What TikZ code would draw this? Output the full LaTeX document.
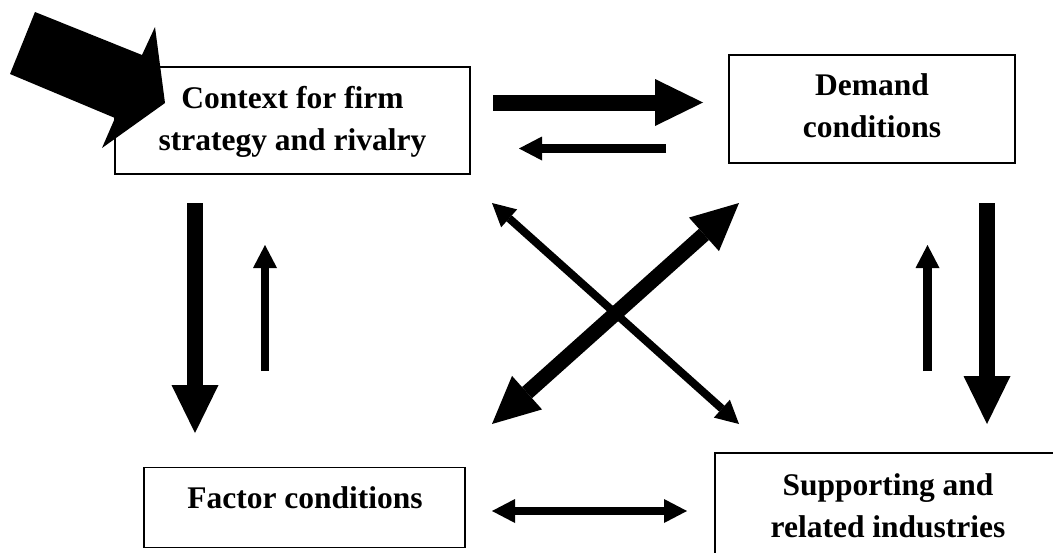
\documentclass[tikz,border=0pt]{standalone}
\usepackage{fontspec}
\setmainfont{Liberation Serif}
\usetikzlibrary{arrows.meta}
\begin{document}
\begin{tikzpicture}[x=1pt,y=-1pt,
  box/.style={draw, line width=1.6pt, rectangle, inner sep=0pt},
  lbl/.style={anchor=base, inner sep=0pt, font=\fontsize{31.5}{42}\selectfont\bfseries},
  heavy/.style={line width=16pt, -{Triangle[length=48pt,width=47pt,line width=0pt]}},
  light/.style={line width=8.5pt, -{Triangle[length=23pt,width=24pt,line width=0pt]}},
  heavyboth/.style={line width=15pt, {Triangle[length=47pt,width=45pt,line width=0pt]}-{Triangle[length=47pt,width=45pt,line width=0pt]}},
  lightboth/.style={line width=8pt, {Triangle[length=23pt,width=24pt,line width=0pt]}-{Triangle[length=23pt,width=24pt,line width=0pt]}},
]
\useasboundingbox (0,0) rectangle (1053,552);
\clip (0,0) rectangle (1053,552);

% boxes
\node[box, minimum width=355pt, minimum height=107pt] (ctx) at (292.5,120.5) {};
\node[box, minimum width=286pt, minimum height=108pt] (dem) at (872,109) {};
\node[box, minimum width=321pt, minimum height=80pt] (fac) at (304.5,507.5) {};
\node[box, minimum width=346pt, minimum height=109pt] (sup) at (888,507.5) {};

% labels
\node[lbl] (ctxlbl) at (292.5,108) {\begin{tabular}[t]{@{}c@{}}Context for firm\\strategy and rivalry\end{tabular}};
\node[lbl] (demlbl) at (872,95) {\begin{tabular}[t]{@{}c@{}}Demand\\conditions\end{tabular}};
\node[lbl] (faclbl) at (305,508) {Factor conditions};
\node[lbl] (suplbl) at (888,495) {\begin{tabular}[t]{@{}c@{}}Supporting and\\related industries\end{tabular}};

% big incoming arrow
\fill (35,12) -- (142,55) -- (155,27) -- (165,103) -- (102,148) -- (115,118) -- (10,74) -- cycle;

% arrow end points
\coordinate (t1s) at (493,102.5); \coordinate (t1e) at (703,102.5);
\coordinate (t2s) at (666,148.5); \coordinate (t2e) at (519,148.5);
\coordinate (l1s) at (195,203);   \coordinate (l1e) at (195,433);
\coordinate (l2s) at (265,371);   \coordinate (l2e) at (265,245);
\coordinate (r1s) at (987,203);   \coordinate (r1e) at (987,424);
\coordinate (r2s) at (927.5,371); \coordinate (r2e) at (927.5,245);
\coordinate (d1s) at (492,203);   \coordinate (d1e) at (739,424);
\coordinate (d2s) at (739,203);   \coordinate (d2e) at (492,424);
\coordinate (b1s) at (492,511);   \coordinate (b1e) at (687,511);

\draw[heavy] (t1s) -- (t1e);
\draw[light] (t2s) -- (t2e);
\draw[heavy] (l1s) -- (l1e);
\draw[light] (l2s) -- (l2e);
\draw[heavy] (r1s) -- (r1e);
\draw[light] (r2s) -- (r2e);
\draw[lightboth] (d1s) -- (d1e);
\draw[heavyboth] (d2s) -- (d2e);
\draw[lightboth] (b1s) -- (b1e);
\end{tikzpicture}
\end{document}
